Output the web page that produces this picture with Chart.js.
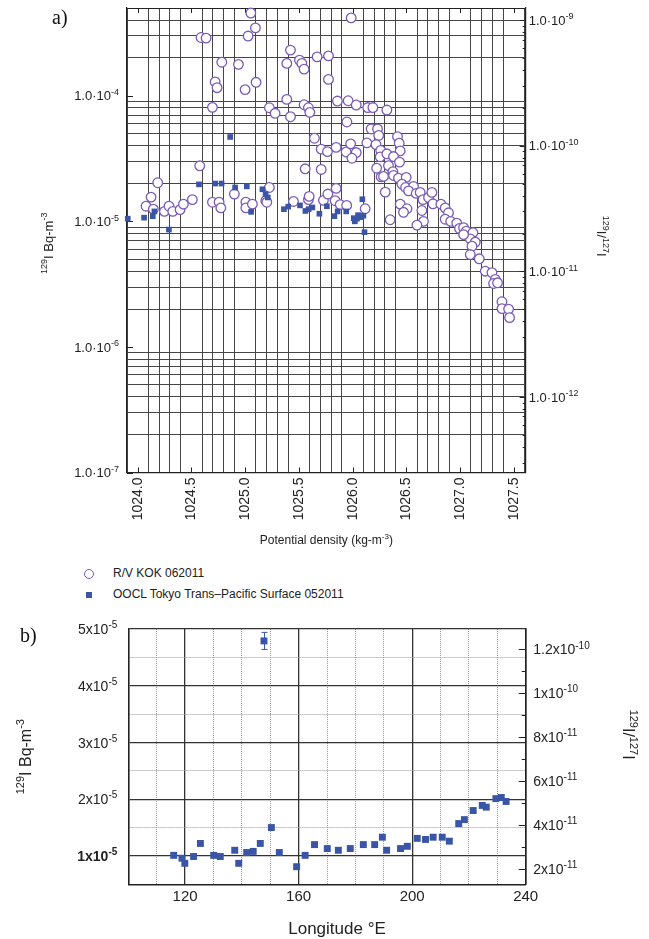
<!DOCTYPE html>
<html><head><meta charset="utf-8">
<script src="https://cdn.jsdelivr.net/npm/chart.js@4.4.1/dist/chart.umd.min.js"></script>
<style>
html,body{margin:0;padding:0;background:#fff;}
#page{position:relative;width:649px;height:939px;overflow:hidden;font-family:'Liberation Sans',Arial,sans-serif;color:#222;}
canvas{position:absolute;left:0;}
.panel{position:absolute;font-family:'Liberation Serif','Times New Roman',serif;font-size:20px;color:#111;line-height:22px;}
.leg{position:absolute;left:113px;font-size:12px;line-height:14px;white-space:nowrap;}
</style></head><body>
<div id="page">
<canvas id="ca" width="649" height="560" style="top:0"></canvas>
<canvas id="cb" width="649" height="329" style="top:610px"></canvas>
<div class="panel" style="left:52px;top:6px">a)</div>
<div class="panel" style="left:20px;top:624px">b)</div>
<div style="position:absolute;left:84px;top:569px;width:8px;height:8px;border:1.2px solid #7b5bb6;border-radius:50%"></div>
<div class="leg" style="top:566px">R/V KOK 062011</div>
<div style="position:absolute;left:86px;top:592px;width:6px;height:6px;background:#3b55a6"></div>
<div class="leg" style="top:587px">OOCL Tokyo Trans–Pacific Surface 052011</div>
</div>
<script>
// ---------- Panel a data: 129I (Bq m-3) vs potential density ----------
const kokDensity = [1024.077,1024.124,1024.145,1024.186,1024.248,1024.291,1024.326,1024.394,1024.425,1024.508,
1024.577,1024.589,1024.636,1024.695,1024.695,1024.720,1024.738,1024.757,1024.773,1024.782,
1024.899,1024.937,1024.999,1025.006,1025.006,1025.027,1025.052,1025.067,1025.095,1025.101,
1025.192,1025.201,1025.225,1025.225,1025.278,1025.387,1025.421,1025.387,1025.421,1025.449,
1025.505,1025.527,1025.548,1025.548,1025.588,1025.601,1025.588,1025.644,1025.669,1025.707,
1025.707,1025.728,1025.775,1025.775,1025.769,1025.558,1025.986,1025.858,1025.958,1026.033,
1026.140,1026.188,1026.318,1025.946,1026.172,1026.231,1026.242,1025.765,1025.846,1025.939,
1025.981,1026.033,1025.993,1026.132,1026.217,1026.261,1026.256,1026.223,1026.265,1025.846,
1025.837,1025.884,1025.944,1026.116,1026.417,1026.433,1026.442,1026.318,1026.380,1026.436,
1026.333,1026.374,1026.287,1026.380,1026.426,1026.303,1026.498,1026.458,1026.492,1026.566,
1026.520,1026.591,1026.628,1026.654,1026.706,1026.737,1026.747,1026.821,1026.861,1026.892,
1026.644,1026.659,1026.598,1026.442,1026.505,1026.473,1026.349,1026.861,1026.912,1026.968,
1026.994,1027.032,1027.057,1027.119,1027.094,1027.141,1027.032,1027.110,1027.094,1027.178,
1027.234,1027.296,1027.327,1027.311,1027.348,1027.389,1027.389,1027.451,1027.460,1025.595];
const kokI129 = [1.32e-5,1.56e-5,1.25e-5,2.03e-5,1.20e-5,1.32e-5,1.20e-5,1.24e-5,1.37e-5,1.49e-5,
2.77e-5,2.91e-4,2.88e-4,8.09e-5,1.42e-5,1.29e-4,1.16e-4,1.42e-5,1.28e-5,1.85e-4,
1.65e-5,1.78e-4,1.12e-4,1.42e-5,1.28e-5,2.99e-4,4.56e-4,1.37e-5,3.47e-4,1.28e-4,
1.46e-5,1.42e-5,1.86e-5,8.03e-5,7.25e-5,1.81e-4,2.31e-4,9.36e-5,6.81e-5,1.44e-5,
1.92e-4,1.81e-4,1.63e-4,8.48e-5,8.03e-5,7.38e-5,1.49e-5,4.59e-5,2.04e-4,3.76e-5,
2.59e-5,1.47e-5,1.35e-4,2.08e-4,1.65e-5,2.62e-5,4.17e-4,9.08e-5,9.13e-5,8.44e-5,
8.06e-5,8.06e-5,7.70e-5,6.18e-5,5.44e-5,5.44e-5,4.83e-5,3.59e-5,3.88e-5,3.57e-5,
4.14e-5,3.53e-5,3.18e-5,4.22e-5,4.09e-5,3.67e-5,3.26e-5,2.65e-5,2.26e-5,1.83e-5,
1.46e-5,1.36e-5,1.34e-5,1.26e-5,4.73e-5,4.19e-5,3.64e-5,3.45e-5,3.28e-5,2.96e-5,
2.78e-5,2.49e-5,2.28e-5,2.32e-5,2.21e-5,1.71e-5,2.24e-5,1.98e-5,1.86e-5,1.90e-5,
1.75e-5,1.67e-5,1.70e-5,1.49e-5,1.55e-5,1.70e-5,1.38e-5,1.37e-5,1.28e-5,1.17e-5,
1.22e-5,1.00e-5,9.33e-6,1.37e-5,1.26e-5,1.18e-5,1.03e-5,1.04e-5,1.00e-5,9.68e-6,
8.78e-6,8.91e-6,8.36e-6,8.13e-6,7.25e-6,6.84e-6,7.84e-6,6.34e-6,5.44e-6,5.03e-6,
4.01e-6,3.90e-6,3.45e-6,3.20e-6,3.24e-6,2.29e-6,2.02e-6,2.00e-6,1.71e-6,1.58e-5];
const ooclDensity = [1023.907,1024.059,1024.140,1024.155,1024.290,1024.570,1024.720,1024.780,1024.860,1024.906,
1025.015,1025.055,1025.160,1025.190,1025.210,1025.360,1025.400,1025.510,1025.560,1025.590,
1025.625,1025.690,1025.760,1025.830,1025.860,1025.940,1026.010,1026.020,1026.040,1026.050,
1026.080,1026.090,1026.100,1026.110];
const ooclI129a = [1.05e-5,1.07e-5,1.10e-5,1.20e-5,8.6e-6,1.97e-5,2.00e-5,2.00e-5,4.7e-5,1.86e-5,
1.90e-5,1.19e-5,1.80e-5,1.65e-5,1.55e-5,1.25e-5,1.31e-5,1.34e-5,1.21e-5,1.25e-5,
1.29e-5,1.15e-5,1.32e-5,1.10e-5,1.20e-5,1.20e-5,1.06e-5,1.00e-5,1.05e-5,1.12e-5,
1.08e-5,1.50e-5,1.11e-5,8.2e-6];

// ---------- Panel b data: 129I (Bq m-3) vs longitude ----------
const ooclLongitude = [116.0,118.9,119.9,123.0,125.4,130.1,132.4,137.5,138.9,141.7,
144.0,146.5,147.8,150.4,153.2,159.3,162.3,165.6,170.1,174.0,
178.2,182.8,186.8,189.5,191.0,195.9,198.3,201.8,204.7,207.4,
210.6,213.1,216.4,218.4,221.5,224.7,226.1,229.5,231.4,233.1];
const ooclI129b = [1.01e-5,0.96e-5,0.87e-5,0.99e-5,1.22e-5,1.01e-5,0.99e-5,1.10e-5,0.87e-5,1.06e-5,
1.08e-5,1.22e-5,4.79e-5,1.50e-5,1.06e-5,0.81e-5,1.01e-5,1.20e-5,1.13e-5,1.10e-5,
1.13e-5,1.20e-5,1.20e-5,1.33e-5,1.10e-5,1.13e-5,1.17e-5,1.31e-5,1.29e-5,1.33e-5,
1.33e-5,1.26e-5,1.57e-5,1.64e-5,1.80e-5,1.89e-5,1.86e-5,2.01e-5,2.03e-5,1.96e-5];
const ooclI129bErr = [0,0,0,0,0,0,0,0,0,0, 0,0,0.15e-5,0,0,0,0,0,0,0, 0,0,0,0,0,0,0,0,0,0, 0,0,0,0,0,0,0,0,0,0];

// ---------- tick labels (^{...} marks a superscript) ----------
const aDensTickVals = [1024.0,1024.5,1025.0,1025.5,1026.0,1026.5,1027.0,1027.5];
const aDensTickLabels = ['1024.0','1024.5','1025.0','1025.5','1026.0','1026.5','1027.0','1027.5'];
const aLeftTickVals = [1e-7,1e-6,1e-5,1e-4];
const aLeftTickLabels = ['1.0·10^{-7}','1.0·10^{-6}','1.0·10^{-5}','1.0·10^{-4}'];
const aRightTickVals = [1e-12,1e-11,1e-10,1e-9];
const aRightTickLabels = ['1.0·10^{-12}','1.0·10^{-11}','1.0·10^{-10}','1.0·10^{-9}'];
const bLonTickVals = [120,160,200,240];
const bLonTickLabels = ['120','160','200','240'];
const bLeftTickVals = [1e-5,2e-5,3e-5,4e-5,5e-5];
const bLeftTickLabels = ['1x10^{-5}','2x10^{-5}','3x10^{-5}','4x10^{-5}','5x10^{-5}'];
const bRightTickVals = [2e-11,4e-11,6e-11,8e-11,1e-10,1.2e-10];
const bRightTickLabels = ['2x10^{-11}','4x10^{-11}','6x10^{-11}','8x10^{-11}','1x10^{-10}','1.2x10^{-10}'];
const titleConc = '^{129}I Bq-m^{-3}';
const titleRatio = '^{129}I/^{127}I';
const titleDensity = 'Potential density (kg-m^{-3})';
const titleLongitude = 'Longitude °E';

// ---------- helpers ----------
const FONT = "'Liberation Sans', Arial, sans-serif";
Chart.defaults.font.family = FONT;
Chart.defaults.color = '#222';
const TXT = '#222';
const GRID_A = '#464646';
const near = (a,b) => Math.abs(a-b) <= Math.abs(b)*1e-6 + 1e-15;
function labelFor(vals, labels, v){ const i = vals.findIndex(t => near(v,t)); return i >= 0 ? labels[i] : ''; }
function isIn(vals, v){ return vals.some(t => near(v,t)); }
function logGrid(min, max){
  const out = [];
  for (let e = Math.floor(Math.log10(min)); e <= Math.ceil(Math.log10(max)); e++)
    for (let k = 1; k <= 9; k++){ const v = k*Math.pow(10,e); if (v >= min*(1-1e-9) && v <= max*(1+1e-9)) out.push(v); }
  return out;
}
function stepGrid(a, b, step){ const out=[]; const n=Math.round((b-a)/step); for(let i=0;i<=n;i++) out.push(+(a+i*step).toPrecision(12)); return out; }

function parseRich(s){
  const parts=[]; const re=/\^\{([^}]*)\}/g; let last=0, m;
  while((m=re.exec(s))){ if(m.index>last) parts.push({t:s.slice(last,m.index),sup:false}); parts.push({t:m[1],sup:true}); last=re.lastIndex; }
  if(last<s.length) parts.push({t:s.slice(last),sup:false});
  return parts;
}
function drawRich(ctx, s, x, y, o){
  const parts = parseRich(s);
  const wt = o.weight || 'normal';
  const fb = `${wt} ${o.size}px ${FONT}`, fs = `${wt} ${o.sup}px ${FONT}`;
  let w = 0;
  parts.forEach(p => { ctx.font = p.sup ? fs : fb; p.w = ctx.measureText(p.t).width; w += p.w; });
  ctx.save(); ctx.translate(x, y); if (o.rot) ctx.rotate(o.rot);
  let cx = o.align === 'right' ? -w : o.align === 'center' ? -w/2 : 0;
  ctx.fillStyle = TXT; ctx.textAlign = 'left'; ctx.textBaseline = 'alphabetic';
  const base = o.size * 0.36;
  parts.forEach(p => { ctx.font = p.sup ? fs : fb; ctx.fillText(p.t, cx, base - (p.sup ? o.size*0.42 : 0)); cx += p.w; });
  ctx.restore();
}
function richTextPlugin(items){
  return { id:'richText', afterDraw(chart){
    const {ctx, chartArea:a} = chart;
    items.forEach(it => {
      if (it.kind === 'ticks'){
        const s = chart.scales[it.scale];
        it.vals.forEach((v,i) => {
          const p = s.getPixelForValue(v);
          const bold = it.bold && it.bold(v);
          if (it.side === 'left') drawRich(ctx, it.labels[i], a.left - it.pad, p, {size:it.size, sup:it.supSize, align:'right', weight: bold ? 'bold' : 'normal'});
          else drawRich(ctx, it.labels[i], a.right + it.pad, p, {size:it.size, sup:it.supSize, align:'left'});
        });
      } else {
        const x = typeof it.x === 'function' ? it.x(a) : it.x;
        const y = typeof it.y === 'function' ? it.y(a) : it.y;
        drawRich(ctx, it.text, x, y, {size:it.size, sup:it.supSize, align:'center', rot:it.rot || 0});
      }
    });
  }};
}
function inTicksPlugin(items){
  return { id:'inTicks', beforeDatasetsDraw(chart){
    const {ctx, chartArea:a} = chart;
    items.forEach(it => {
      const s = chart.scales[it.scale];
      ctx.save(); ctx.strokeStyle = '#222'; ctx.lineWidth = 1;
      it.values.forEach(v => {
        const len = typeof it.len === 'function' ? it.len(v) : it.len;
        const p = Math.round(s.getPixelForValue(v)) + 0.5;
        ctx.beginPath();
        it.sides.forEach(side => {
          if (side==='bottom'){ ctx.moveTo(p,a.bottom); ctx.lineTo(p,a.bottom-len); }
          if (side==='top'){ ctx.moveTo(p,a.top); ctx.lineTo(p,a.top+len); }
          if (side==='left'){ ctx.moveTo(a.left,p); ctx.lineTo(a.left+len,p); }
          if (side==='right'){ ctx.moveTo(a.right,p); ctx.lineTo(a.right-len,p); }
        });
        ctx.stroke();
      });
      ctx.restore();
    });
  }};
}

// ---------- Chart a ----------
const A = {L:127, R:525.7, T:8, B:472.5, H:560};
const densGrid = stepGrid(1023.9, 1027.6, 0.1);
const aLeftGrid = logGrid(1e-7, 5e-4);
const aRightGrid = logGrid(2.5e-13, 1.25e-9);

new Chart(document.getElementById('ca'), {
  type:'scatter',
  data:{ datasets:[
    { label:'OOCL Tokyo Trans–Pacific Surface 052011',
      data: ooclDensity.map((x,i)=>({x, y: ooclI129a[i]})),
      pointStyle:'rect', pointRadius:4, backgroundColor:'#3b55a6', borderColor:'#3b55a6', borderWidth:0, clip:false },
    { label:'R/V KOK 062011',
      data: kokDensity.map((x,i)=>({x, y: kokI129[i]})),
      pointStyle:'circle', pointRadius:4.8, backgroundColor:'#ffffff', borderColor:'#7b5bb6', borderWidth:1.3, clip:false }
  ]},
  options:{
    responsive:false, animation:false, devicePixelRatio:1,
    layout:{ padding:{ top:A.T, left:0, right:0, bottom:0 } },
    plugins:{ legend:{display:false}, tooltip:{enabled:false} },
    scales:{
      x:{ type:'linear', position:'bottom', min:1023.9, max:1027.61,
        afterBuildTicks: s => { s.ticks = densGrid.map(v=>({value:v})); },
        afterFit: s => { s.height = A.H - A.B; },
        grid:{ drawTicks:false, lineWidth:1, color: c => (c.tick && isIn(aDensTickVals, c.tick.value)) ? 'rgba(0,0,0,0)' : GRID_A },
        border:{ color:'#222', width:1.2 },
        ticks:{ autoSkip:false, minRotation:90, maxRotation:90, padding:5, color:TXT, font:{size:14},
          callback: v => labelFor(aDensTickVals, aDensTickLabels, v) }
      },
      y:{ type:'logarithmic', position:'left', min:1e-7, max:5e-4,
        afterBuildTicks: s => { s.ticks = aLeftGrid.map(v=>({value:v})); },
        afterFit: s => { s.width = A.L; },
        grid:{ drawTicks:false, lineWidth:1, color: c => {
          if (!c.tick) return GRID_A;
          if (near(c.tick.value, 5e-4)) return '#222';
          return isIn(aLeftTickVals, c.tick.value) ? 'rgba(0,0,0,0)' : GRID_A; } },
        border:{ color:'#222', width:1.2 },
        ticks:{ display:false }
      },
      y2:{ type:'logarithmic', position:'right', min:2.5e-13, max:1.25e-9,
        afterBuildTicks: s => { s.ticks = aRightGrid.map(v=>({value:v})); },
        afterFit: s => { s.width = 649 - A.R; },
        grid:{ drawOnChartArea:false, drawTicks:false },
        border:{ color:'#222', width:1.2 },
        ticks:{ display:false }
      }
    }
  },
  plugins:[ inTicksPlugin([
    { scale:'x', values:aDensTickVals, len:5, sides:['bottom','top'] },
    { scale:'y', values:aLeftTickVals, len:6, sides:['left'] },
    { scale:'y2', values:aRightGrid, len: v => isIn(aRightTickVals, v) ? 6 : 3, sides:['right'] }
  ]), richTextPlugin([
    { kind:'ticks', scale:'y', vals:aLeftTickVals, labels:aLeftTickLabels, side:'left', pad:8, size:13, supSize:9 },
    { kind:'ticks', scale:'y2', vals:aRightTickVals, labels:aRightTickLabels, side:'right', pad:3, size:13, supSize:9 },
    { kind:'title', text:titleConc, x:48, y: a => (a.top+a.bottom)/2 + 3, size:13, supSize:9, rot:-Math.PI/2 },
    { kind:'title', text:titleRatio, x:602, y: a => (a.top+a.bottom)/2 - 4, size:13, supSize:9, rot:Math.PI/2 },
    { kind:'title', text:titleDensity, x: a => (a.left+a.right)/2, y:540, size:12, supSize:8 }
  ]) ]
});

// ---------- Chart b ----------
const B = {L:128.3, R:525.7, T:19, B:274.3, H:329};
const lonGrid = stepGrid(100, 240, 10);
const bLeftGrid = stepGrid(0.5e-5, 5e-5, 0.5e-5);
const bRightGrid = stepGrid(2e-11, 12e-11, 1e-11);
const MAJOR_B = '#333', MINOR_B = '#9a9a9a';

const errBars = { id:'errBars', beforeDatasetsDraw(chart){
  const {ctx} = chart; const meta = chart.getDatasetMeta(0); const ys = chart.scales.y;
  ctx.save(); ctx.strokeStyle = '#3b55a6'; ctx.lineWidth = 1;
  ooclI129b.forEach((v,i) => {
    const e = ooclI129bErr[i]; if (!e) return;
    const x = Math.round(meta.data[i].x) + 0.5;
    const y1 = ys.getPixelForValue(v + e), y2 = ys.getPixelForValue(v - e);
    ctx.beginPath();
    ctx.moveTo(x, y1); ctx.lineTo(x, y2);
    ctx.moveTo(x-3, y1); ctx.lineTo(x+3, y1);
    ctx.moveTo(x-3, y2); ctx.lineTo(x+3, y2);
    ctx.stroke();
  });
  ctx.restore();
}};

new Chart(document.getElementById('cb'), {
  type:'scatter',
  data:{ datasets:[
    { label:'OOCL Tokyo Trans–Pacific Surface 052011',
      data: ooclLongitude.map((x,i)=>({x, y: ooclI129b[i]})),
      pointStyle:'rect', pointRadius:4.9, backgroundColor:'#3b55a6', borderColor:'#3b55a6', borderWidth:0, clip:false }
  ]},
  options:{
    responsive:false, animation:false, devicePixelRatio:1,
    layout:{ padding:{ top:B.T, left:0, right:0, bottom:0 } },
    plugins:{ legend:{display:false}, tooltip:{enabled:false} },
    scales:{
      x:{ type:'linear', position:'bottom', min:100, max:240,
        afterBuildTicks: s => { s.ticks = lonGrid.map(v=>({value:v})); },
        afterFit: s => { s.height = B.H - B.B; },
        grid:{ drawTicks:false,
          color: c => (c.tick && isIn(bLonTickVals, c.tick.value)) ? MAJOR_B : MINOR_B,
          lineWidth: c => (c.tick && isIn(bLonTickVals, c.tick.value)) ? 1.3 : 1 },
        border:{ color:'#222', width:1.6, dash: c => (c.tick && !isIn(bLonTickVals, c.tick.value)) ? [1,1] : [] },
        ticks:{ autoSkip:false, maxRotation:0, minRotation:0, padding:4, color:TXT, font:{size:15},
          callback: v => labelFor(bLonTickVals, bLonTickLabels, v) }
      },
      y:{ type:'linear', position:'left', min:0.5e-5, max:5e-5,
        afterBuildTicks: s => { s.ticks = bLeftGrid.map(v=>({value:v})); },
        afterFit: s => { s.width = B.L; },
        grid:{ drawTicks:false,
          color: c => (c.tick && isIn(bLeftTickVals, c.tick.value)) ? MAJOR_B : MINOR_B,
          lineWidth: c => (c.tick && isIn(bLeftTickVals, c.tick.value)) ? 1.3 : 1 },
        border:{ color:'#222', width:1.6, dash: c => (c.tick && !isIn(bLeftTickVals, c.tick.value)) ? [1,1] : [] },
        ticks:{ display:false }
      },
      y2:{ type:'linear', position:'right', min:1.28e-11, max:1.293e-10,
        afterBuildTicks: s => { s.ticks = bRightGrid.map(v=>({value:v})); },
        afterFit: s => { s.width = 649 - B.R; },
        grid:{ drawOnChartArea:false, drawTicks:false },
        border:{ color:'#222', width:1.6 },
        ticks:{ display:false }
      }
    }
  },
  plugins:[ errBars, inTicksPlugin([
    { scale:'y2', values:bRightGrid, len: v => isIn(bRightTickVals, v) ? 7 : 4, sides:['right'] }
  ]), richTextPlugin([
    { kind:'ticks', scale:'y', vals:bLeftTickVals, labels:bLeftTickLabels, side:'left', pad:11, size:14, supSize:10, bold: v => near(v, 1e-5) },
    { kind:'ticks', scale:'y2', vals:bRightTickVals, labels:bRightTickLabels, side:'right', pad:7.5, size:14, supSize:10 },
    { kind:'title', text:titleConc, x:25, y: a => (a.top+a.bottom)/2, size:16, supSize:11, rot:-Math.PI/2 },
    { kind:'title', text:titleRatio, x:629, y: a => (a.top+a.bottom)/2 - 22, size:16, supSize:11, rot:Math.PI/2 },
    { kind:'title', text:titleLongitude, x:337, y:318, size:17, supSize:12 }
  ]) ]
});
</script>
</body></html>
